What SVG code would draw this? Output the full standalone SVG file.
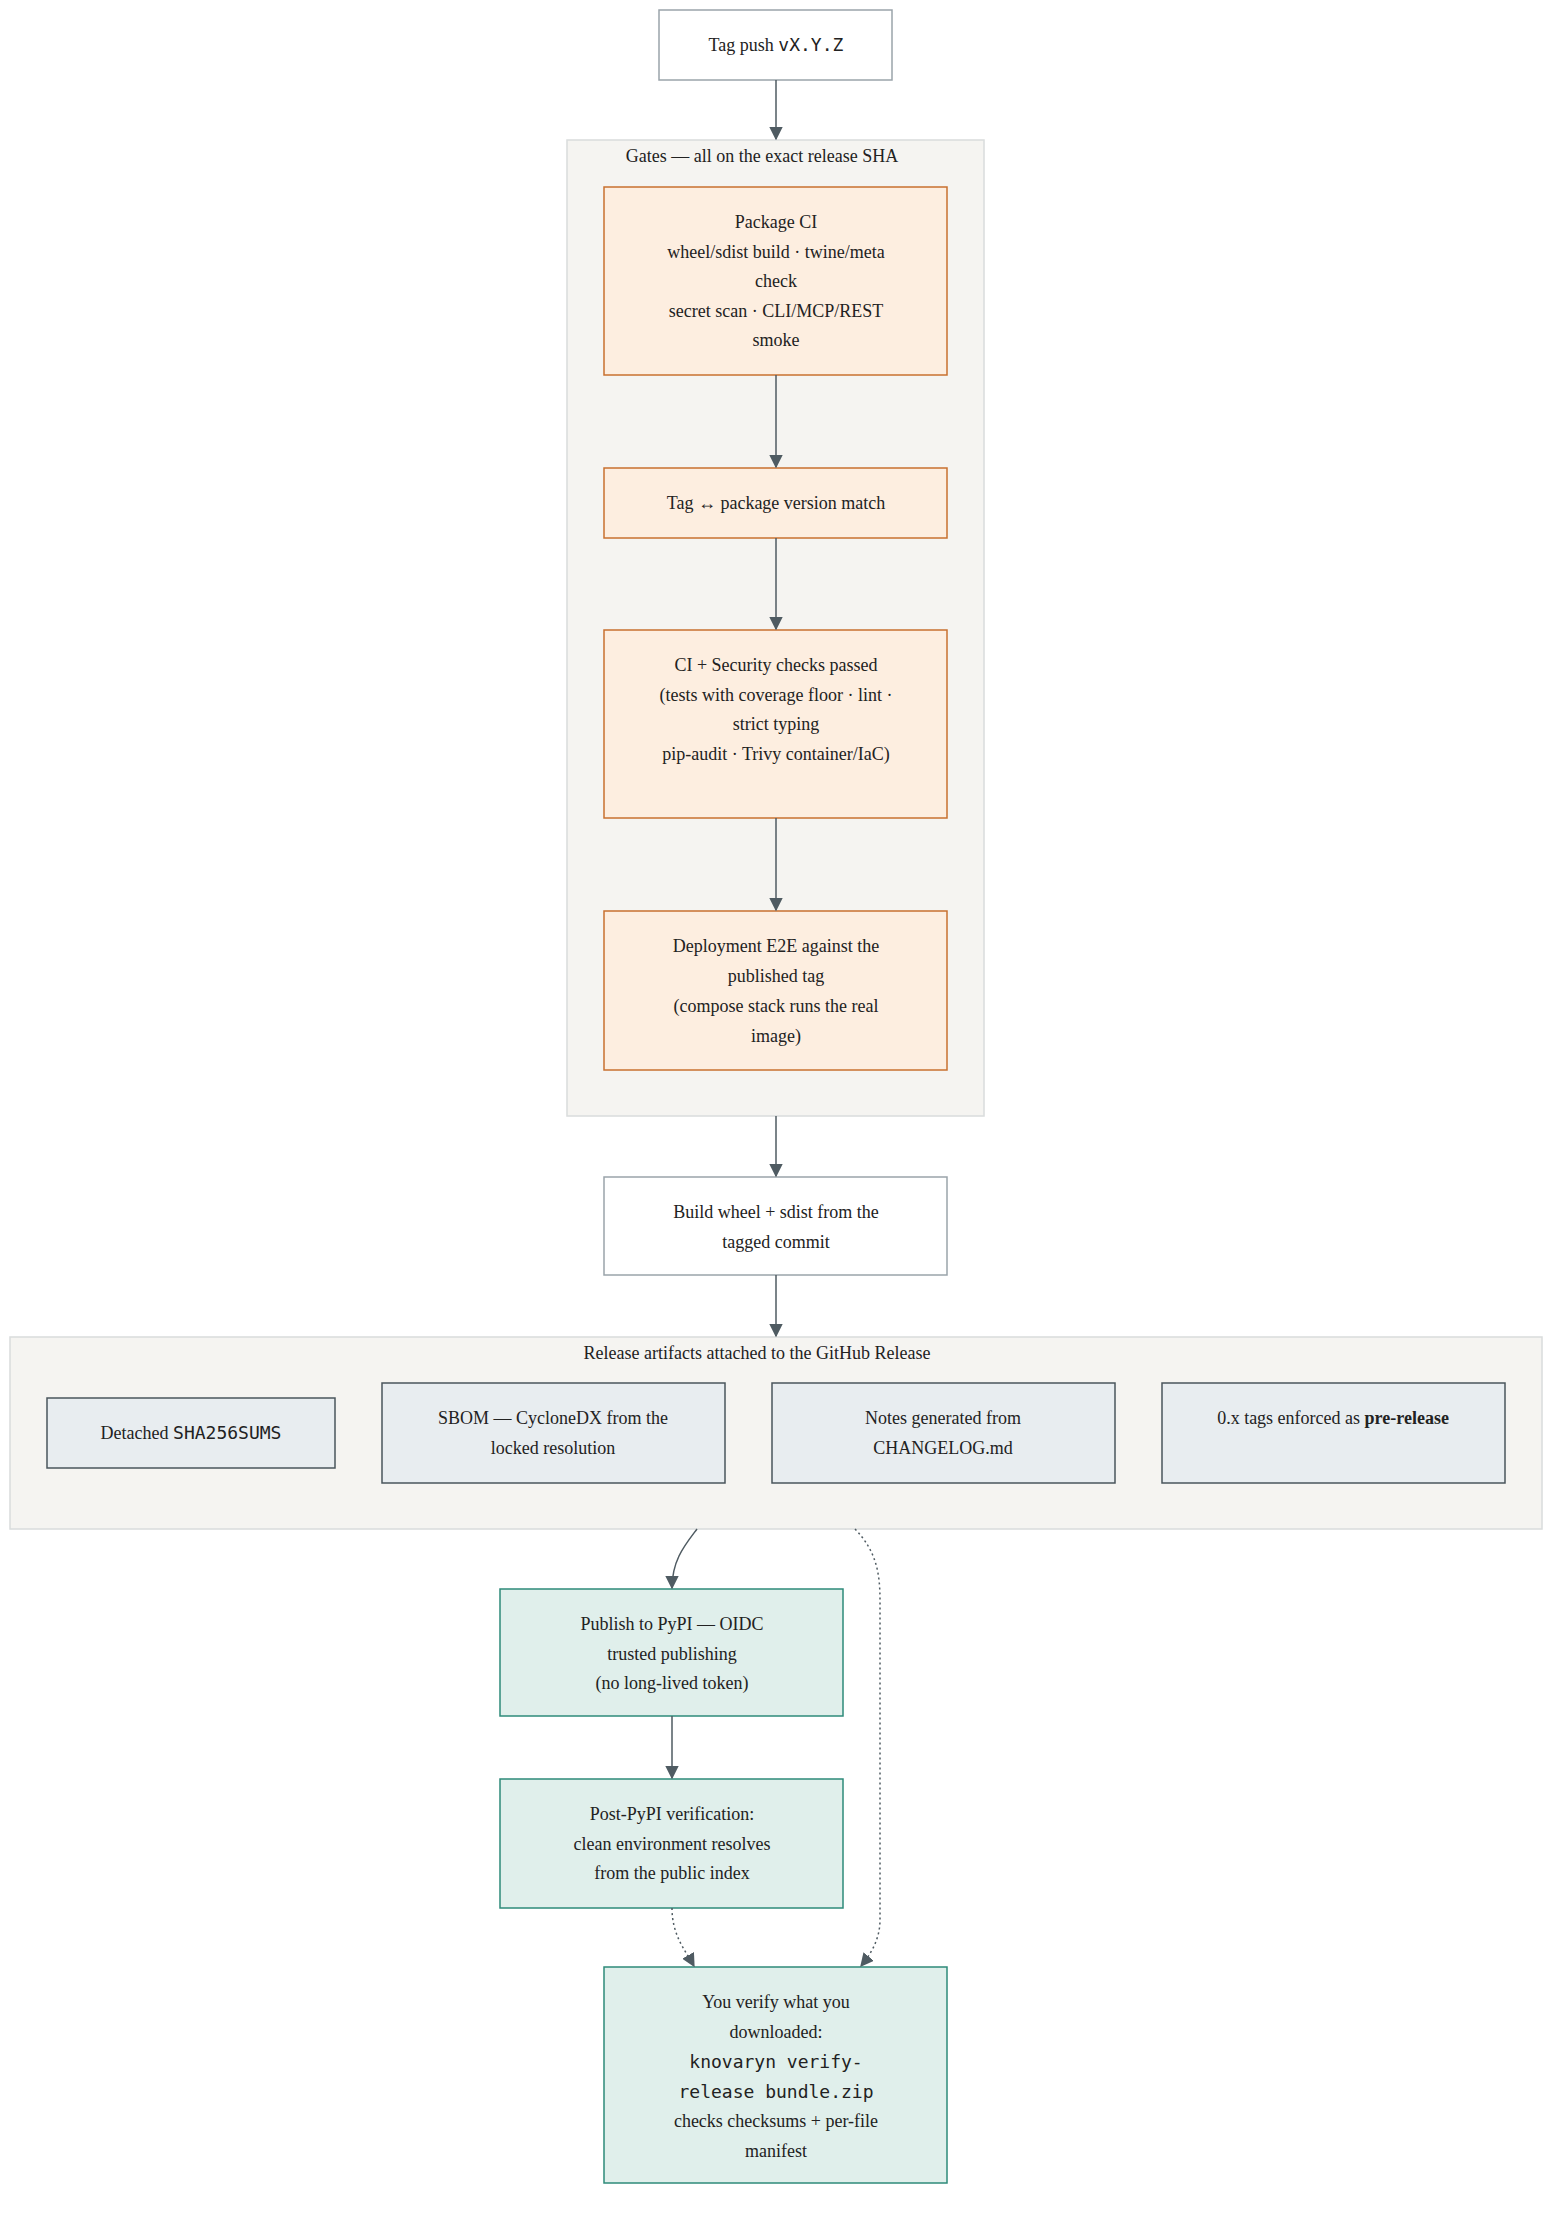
<svg xmlns="http://www.w3.org/2000/svg" width="1568" height="2220" viewBox="0 0 1568 2220">
<style>
text{font-family:"Liberation Serif","Times New Roman",serif;font-size:18px;fill:#222;text-anchor:middle}
.mono{font-family:"DejaVu Sans Mono","Liberation Mono",monospace}
.cl{fill:#f5f4f1;stroke:#d9dcdc;stroke-width:1.5}
.w{fill:#fff;stroke:#9aa4aa;stroke-width:1.5}
.o{fill:#fdeee0;stroke:#c8702f;stroke-width:1.5}
.g{fill:#e8edf0;stroke:#4a555c;stroke-width:1.5}
.t{fill:#e0efeb;stroke:#2e8b7a;stroke-width:1.5}
.e{fill:none;stroke:#4f5b62;stroke-width:1.5}
.d{stroke-dasharray:2 3}
</style>
<defs><marker id="a" viewBox="0 0 10 10" refX="9" refY="5" markerWidth="9" markerHeight="9" orient="auto"><path d="M0,0L10,5L0,10z" fill="#4f5b62"/></marker></defs>
<rect width="1568" height="2220" fill="#fff"/>
<g id="gates"><rect class="cl" x="567" y="140" width="417" height="976"/><text x="762" y="162">Gates — all on the exact release SHA</text></g>
<g id="artifacts"><rect class="cl" x="10" y="1337" width="1532" height="192"/><text x="757" y="1359">Release artifacts attached to the GitHub Release</text></g>
<g id="tag"><rect class="w" x="659" y="10" width="233" height="70"/><text x="776" y="51">Tag push <tspan class="mono">vX.Y.Z</tspan></text></g>
<g id="pkgci"><rect class="o" x="604" y="187" width="343" height="188"/><text x="776" y="228">Package CI</text><text x="776" y="258">wheel/sdist build · twine/meta</text><text x="776" y="287">check</text><text x="776" y="317">secret scan · CLI/MCP/REST</text><text x="776" y="346">smoke</text></g>
<g id="match"><rect class="o" x="604" y="468" width="343" height="70"/><text x="776" y="509">Tag ↔ package version match</text></g>
<g id="cisec"><rect class="o" x="604" y="630" width="343" height="188"/><text x="776" y="671">CI + Security checks passed</text><text x="776" y="701">(tests with coverage floor · lint ·</text><text x="776" y="730">strict typing</text><text x="776" y="760">pip-audit · Trivy container/IaC)</text></g>
<g id="e2e"><rect class="o" x="604" y="911" width="343" height="159"/><text x="776" y="952">Deployment E2E against the</text><text x="776" y="982">published tag</text><text x="776" y="1012">(compose stack runs the real</text><text x="776" y="1042">image)</text></g>
<g id="build"><rect class="w" x="604" y="1177" width="343" height="98"/><text x="776" y="1218">Build wheel + sdist from the</text><text x="776" y="1248">tagged commit</text></g>
<g id="sha"><rect class="g" x="47" y="1398" width="288" height="70"/><text x="191" y="1439">Detached <tspan class="mono">SHA256SUMS</tspan></text></g>
<g id="sbom"><rect class="g" x="382" y="1383" width="343" height="100"/><text x="553" y="1424">SBOM — CycloneDX from the</text><text x="553" y="1454">locked resolution</text></g>
<g id="notes"><rect class="g" x="772" y="1383" width="343" height="100"/><text x="943" y="1424">Notes generated from</text><text x="943" y="1454">CHANGELOG.md</text></g>
<g id="pre"><rect class="g" x="1162" y="1383" width="343" height="100"/><text x="1333" y="1424">0.x tags enforced as <tspan font-weight="bold">pre-release</tspan></text></g>
<g id="pypi"><rect class="t" x="500" y="1589" width="343" height="127"/><text x="672" y="1630">Publish to PyPI — OIDC</text><text x="672" y="1660">trusted publishing</text><text x="672" y="1689">(no long-lived token)</text></g>
<g id="post"><rect class="t" x="500" y="1779" width="343" height="129"/><text x="672" y="1820">Post-PyPI verification:</text><text x="672" y="1850">clean environment resolves</text><text x="672" y="1879">from the public index</text></g>
<g id="verify"><rect class="t" x="604" y="1967" width="343" height="216"/><text x="776" y="2008">You verify what you</text><text x="776" y="2038">downloaded:</text><text class="mono" x="776" y="2068" font-size="19">knovaryn verify-</text><text class="mono" x="776" y="2098" font-size="19">release bundle.zip</text><text x="776" y="2127">checks checksums + per-file</text><text x="776" y="2157">manifest</text></g>
<g id="edges">
<path class="e" d="M776,80V139" marker-end="url(#a)"/>
<path class="e" d="M776,375V467" marker-end="url(#a)"/>
<path class="e" d="M776,538V629" marker-end="url(#a)"/>
<path class="e" d="M776,818V910" marker-end="url(#a)"/>
<path class="e" d="M776,1116V1176" marker-end="url(#a)"/>
<path class="e" d="M776,1275V1336" marker-end="url(#a)"/>
<path class="e" d="M697,1529C685,1545 672,1560 672,1588" marker-end="url(#a)"/>
<path class="e" d="M672,1716V1778" marker-end="url(#a)"/>
<path class="e d" d="M672,1908C672,1935 685,1950 694,1966" marker-end="url(#a)"/>
<path class="e d" d="M855,1529C875,1550 880,1570 880,1600V1920C880,1940 870,1955 861,1966" marker-end="url(#a)"/>
</g>
</svg>
